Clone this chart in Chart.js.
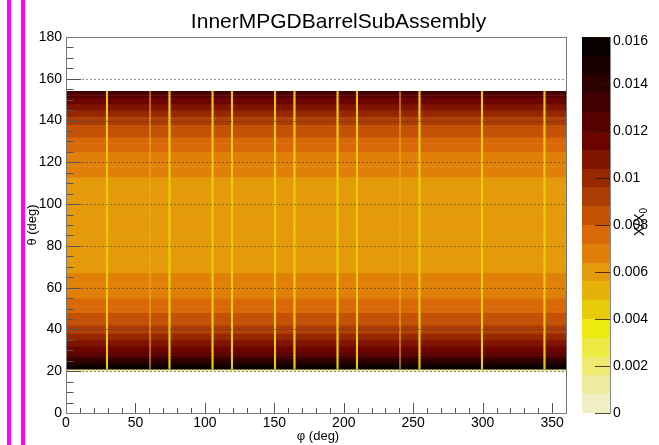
<!DOCTYPE html>
<html>
<head>
<meta charset="utf-8">
<script src="https://cdn.jsdelivr.net/npm/chart.js@4.4.0/dist/chart.umd.min.js"></script>
<style>
  html, body { margin: 0; padding: 0; background: #fff; }
  #wrap { position: relative; width: 659px; height: 445px; overflow: hidden; }
  #chart { position: absolute; left: 0; top: 0; }
  .mag { position: absolute; top: 0; width: 4px; height: 445px; background: #ff00ff; }
</style>
</head>
<body>
<div id="wrap">
  <canvas id="chart" width="659" height="445"></canvas>
  <div class="mag" style="left:7px"></div>
  <div class="mag" style="left:21px"></div>
</div>
<script>
// theta bin centres (1 deg bins)
const thetaBins = [
  20.5, 21.5, 22.5, 23.5, 24.5, 25.5, 26.5, 27.5, 28.5, 29.5,
  30.5, 31.5, 32.5, 33.5, 34.5, 35.5, 36.5, 37.5, 38.5, 39.5,
  40.5, 41.5, 42.5, 43.5, 44.5, 45.5, 46.5, 47.5, 48.5, 49.5,
  50.5, 51.5, 52.5, 53.5, 54.5, 55.5, 56.5, 57.5, 58.5, 59.5,
  60.5, 61.5, 62.5, 63.5, 64.5, 65.5, 66.5, 67.5, 68.5, 69.5,
  70.5, 71.5, 72.5, 73.5, 74.5, 75.5, 76.5, 77.5, 78.5, 79.5,
  80.5, 81.5, 82.5, 83.5, 84.5, 85.5, 86.5, 87.5, 88.5, 89.5,
  90.5, 91.5, 92.5, 93.5, 94.5, 95.5, 96.5, 97.5, 98.5, 99.5,
  100.5, 101.5, 102.5, 103.5, 104.5, 105.5, 106.5, 107.5, 108.5, 109.5,
  110.5, 111.5, 112.5, 113.5, 114.5, 115.5, 116.5, 117.5, 118.5, 119.5,
  120.5, 121.5, 122.5, 123.5, 124.5, 125.5, 126.5, 127.5, 128.5, 129.5,
  130.5, 131.5, 132.5, 133.5, 134.5, 135.5, 136.5, 137.5, 138.5, 139.5,
  140.5, 141.5, 142.5, 143.5, 144.5, 145.5, 146.5, 147.5, 148.5, 149.5,
  150.5, 151.5, 152.5, 153.5
];

// X/X0 of each theta row (same along phi apart from the gaps)
const rowValues = [
  0.0012, 0.0161, 0.01542, 0.0148, 0.01423, 0.0137, 0.01322, 0.01278, 0.01236, 0.01198,
  0.01163, 0.01129, 0.01098, 0.01069, 0.01042, 0.01016, 0.00992, 0.00969, 0.00948, 0.00928,
  0.00909, 0.0089, 0.00873, 0.00857, 0.00842, 0.00827, 0.00813, 0.008, 0.00788, 0.00776,
  0.00765, 0.00754, 0.00744, 0.00734, 0.00725, 0.00716, 0.00708, 0.007, 0.00692, 0.00685,
  0.00678, 0.00671, 0.00665, 0.00659, 0.00654, 0.00648, 0.00643, 0.00639, 0.00634, 0.0063,
  0.00626, 0.00622, 0.00619, 0.00615, 0.00612, 0.00609, 0.00607, 0.00604, 0.00602, 0.006,
  0.00598, 0.00597, 0.00595, 0.00594, 0.00593, 0.00592, 0.00591, 0.00591, 0.0059, 0.0059,
  0.0059, 0.0059, 0.00591, 0.00591, 0.00592, 0.00593, 0.00594, 0.00595, 0.00597, 0.00598,
  0.006, 0.00602, 0.00604, 0.00607, 0.00609, 0.00612, 0.00615, 0.00619, 0.00622, 0.00626,
  0.0063, 0.00634, 0.00639, 0.00643, 0.00648, 0.00654, 0.00659, 0.00665, 0.00671, 0.00678,
  0.00685, 0.00692, 0.007, 0.00708, 0.00716, 0.00725, 0.00734, 0.00744, 0.00754, 0.00765,
  0.00776, 0.00788, 0.008, 0.00813, 0.00827, 0.00842, 0.00857, 0.00873, 0.0089, 0.00909,
  0.00928, 0.00948, 0.00969, 0.00992, 0.01016, 0.01042, 0.01069, 0.01098, 0.01129, 0.01163,
  0.01198, 0.01236, 0.01278, 0.01322
];

// phi bins (low edge, 1 deg wide) where the material has gaps
const gapPhi = [29, 74, 105, 119, 150, 164, 195, 209, 254, 299, 344];
const gapValue = 0.0044;
const dimPhi = [60, 240];
const phiRange = [0, 360];
const phiBinWidth = 1;

// palette: 20 contour levels from 0 to 0.016
const zMax = 0.016;
const paletteColors = [
  '#f0f0c4', '#eeec9c', '#eeea72', '#eeea44', '#ecea10',
  '#e8cc0a', '#e6b20a', '#e49a0a', '#e08008', '#d86808',
  '#c45206', '#ac3c04', '#962800', '#801400', '#6c0400',
  '#560000', '#420000', '#2e0000', '#1c0000', '#0a0000'
];

const titleText = 'InnerMPGDBarrelSubAssembly';
const xTitle = 'φ (deg)';
const yTitle = 'θ (deg)';

const FONT = '"Liberation Sans", Arial, Helvetica, sans-serif';
Chart.defaults.font.family = FONT;
Chart.defaults.font.size = 14;
Chart.defaults.color = '#000';

function colorFor(v) {
  const step = zMax / paletteColors.length;
  let i = Math.floor(v / step + 1e-9);
  i = Math.max(0, Math.min(paletteColors.length - 1, i));
  return paletteColors[i];
}

const fmtZ = v => String(+v.toFixed(4));

const rowData = thetaBins.map(t => ({ y: t, x: phiRange.slice() }));
const gapData = [];
const dimData = [];
thetaBins.forEach(t => {
  if (t < 21) return;
  gapPhi.forEach(p => gapData.push({ y: t, x: [p, p + phiBinWidth] }));
  dimPhi.forEach(p => dimData.push({ y: t, x: [p, p + phiBinWidth] }));
});

// ROOT-like frame, inner ticks, dashed grid, palette and titles
const rootStyle = {
  id: 'rootStyle',
  afterDatasetsDraw(chart) {
    const { ctx, chartArea: a, scales: { x, y } } = chart;
    const line = (x0, y0, x1, y1) => { ctx.beginPath(); ctx.moveTo(x0, y0); ctx.lineTo(x1, y1); ctx.stroke(); };
    ctx.save();
    ctx.lineWidth = 1;
    ctx.strokeStyle = 'rgba(60,60,60,0.55)';
    ctx.setLineDash([2, 2]);
    for (let v = 20; v < 180; v += 20) {
      const py = Math.round(y.getPixelForValue(v)) + 0.5;
      line(a.left, py, a.right, py);
    }
    ctx.setLineDash([]);
    ctx.strokeStyle = '#555';
    for (let v = 0; v <= 360; v += 10) {
      const px = Math.round(x.getPixelForValue(v)) + 0.5;
      line(px, a.bottom, px, a.bottom - (v % 50 === 0 ? 10 : 5));
    }
    for (let v = 0; v <= 180; v += 5) {
      const py = Math.round(y.getPixelForValue(v)) + 0.5;
      line(a.left, py, a.left + (v % 20 === 0 ? 15 : 7.5), py);
    }
    ctx.strokeStyle = '#777';
    ctx.strokeRect(Math.round(a.left) + 0.5, Math.round(a.top) + 0.5,
      Math.round(a.right - a.left), Math.round(a.bottom - a.top));
    ctx.restore();
  },
  afterDraw(chart) {
    const { ctx, chartArea: a, scales: { z } } = chart;
    ctx.save();
    // colour palette
    const px0 = a.right + 16, px1 = a.right + 44;
    const step = zMax / paletteColors.length;
    paletteColors.forEach((c, i) => {
      const yb = Math.round(z.getPixelForValue(i * step));
      const yt = Math.round(z.getPixelForValue((i + 1) * step));
      ctx.fillStyle = c;
      ctx.fillRect(px0, yt, px1 - px0, yb - yt);
    });
    ctx.strokeStyle = 'rgba(40,20,0,0.8)';
    ctx.lineWidth = 1;
    ctx.fillStyle = '#000';
    ctx.font = '14px ' + FONT;
    ctx.textAlign = 'left';
    ctx.textBaseline = 'middle';
    z.ticks.forEach(t => {
      const py = Math.round(z.getPixelForValue(t.value)) + 0.5;
      ctx.beginPath(); ctx.moveTo(px1 - 15, py); ctx.lineTo(px1, py); ctx.stroke();
      const ly = t.value >= zMax - 1e-9 ? py + 4 : py;
      ctx.fillText(fmtZ(t.value), px1 + 3, ly);
    });
    ctx.strokeStyle = '#888';
    ctx.beginPath(); ctx.moveTo(px1 + 0.5, Math.round(a.top)); ctx.lineTo(px1 + 0.5, Math.round(a.bottom) + 1); ctx.stroke();

    // title
    ctx.font = '21px ' + FONT;
    ctx.textAlign = 'center';
    ctx.textBaseline = 'alphabetic';
    ctx.fillText(titleText, 338.5, 27.5);

    // axis titles
    ctx.font = '13px ' + FONT;
    ctx.textBaseline = 'middle';
    ctx.fillText(xTitle, 318, 436.5);
    ctx.save();
    ctx.translate(32, 225);
    ctx.rotate(-Math.PI / 2);
    ctx.fillText(yTitle, 0, 0);
    ctx.restore();

    // X/X0 on the palette axis
    ctx.save();
    ctx.translate(640, 222);
    ctx.rotate(-Math.PI / 2);
    ctx.font = '14px ' + FONT;
    const w1 = ctx.measureText('X/X').width;
    ctx.font = '10px ' + FONT;
    const w2 = ctx.measureText('0').width;
    const x0 = -(w1 + w2) / 2;
    ctx.textAlign = 'left';
    ctx.font = '14px ' + FONT;
    ctx.fillText('X/X', x0, 0);
    ctx.font = '10px ' + FONT;
    ctx.fillText('0', x0 + w1, 4);
    ctx.restore();
    ctx.restore();
  }
};

const ctx = document.getElementById('chart').getContext('2d');
new Chart(ctx, {
  type: 'bar',
  data: {
    datasets: [
      {
        label: 'gaps',
        data: gapData,
        backgroundColor: colorFor(gapValue),
        order: 0
      },
      {
        label: 'dim gaps',
        data: dimData,
        backgroundColor: 'rgba(236,176,16,0.5)',
        order: 1
      },
      {
        label: 'X/X0',
        data: rowData,
        backgroundColor: rowValues.map(colorFor),
        order: 2
      }
    ]
  },
  options: {
    indexAxis: 'y',
    responsive: false,
    animation: false,
    events: [],
    layout: { padding: { top: 37, left: 0, right: 0, bottom: 0 } },
    datasets: {
      bar: { grouped: false, categoryPercentage: 1, barPercentage: 1, borderWidth: 0 }
    },
    plugins: {
      legend: { display: false },
      title: { display: false },
      tooltip: { enabled: false }
    },
    scales: {
      x: {
        type: 'linear',
        position: 'bottom',
        min: 0,
        max: 360,
        offset: false,
        grid: { display: false, drawTicks: false },
        border: { display: false },
        ticks: { stepSize: 50, includeBounds: false, padding: 2, maxRotation: 0, autoSkip: false },
        afterFit: s => { s.height = 32; }
      },
      y: {
        type: 'linear',
        position: 'left',
        min: 0,
        max: 180,
        offset: false,
        grid: { display: false, drawTicks: false },
        border: { display: false },
        ticks: { stepSize: 20, padding: 4, autoSkip: false },
        afterFit: s => { s.width = 66; }
      },
      z: {
        type: 'linear',
        axis: 'y',
        position: 'right',
        min: 0,
        max: zMax,
        offset: false,
        grid: { display: false, drawTicks: false },
        border: { display: false },
        ticks: { display: false, stepSize: 0.002, autoSkip: false },
        afterFit: s => { s.width = 93; }
      }
    }
  },
  plugins: [rootStyle]
});
</script>
</body>
</html>
